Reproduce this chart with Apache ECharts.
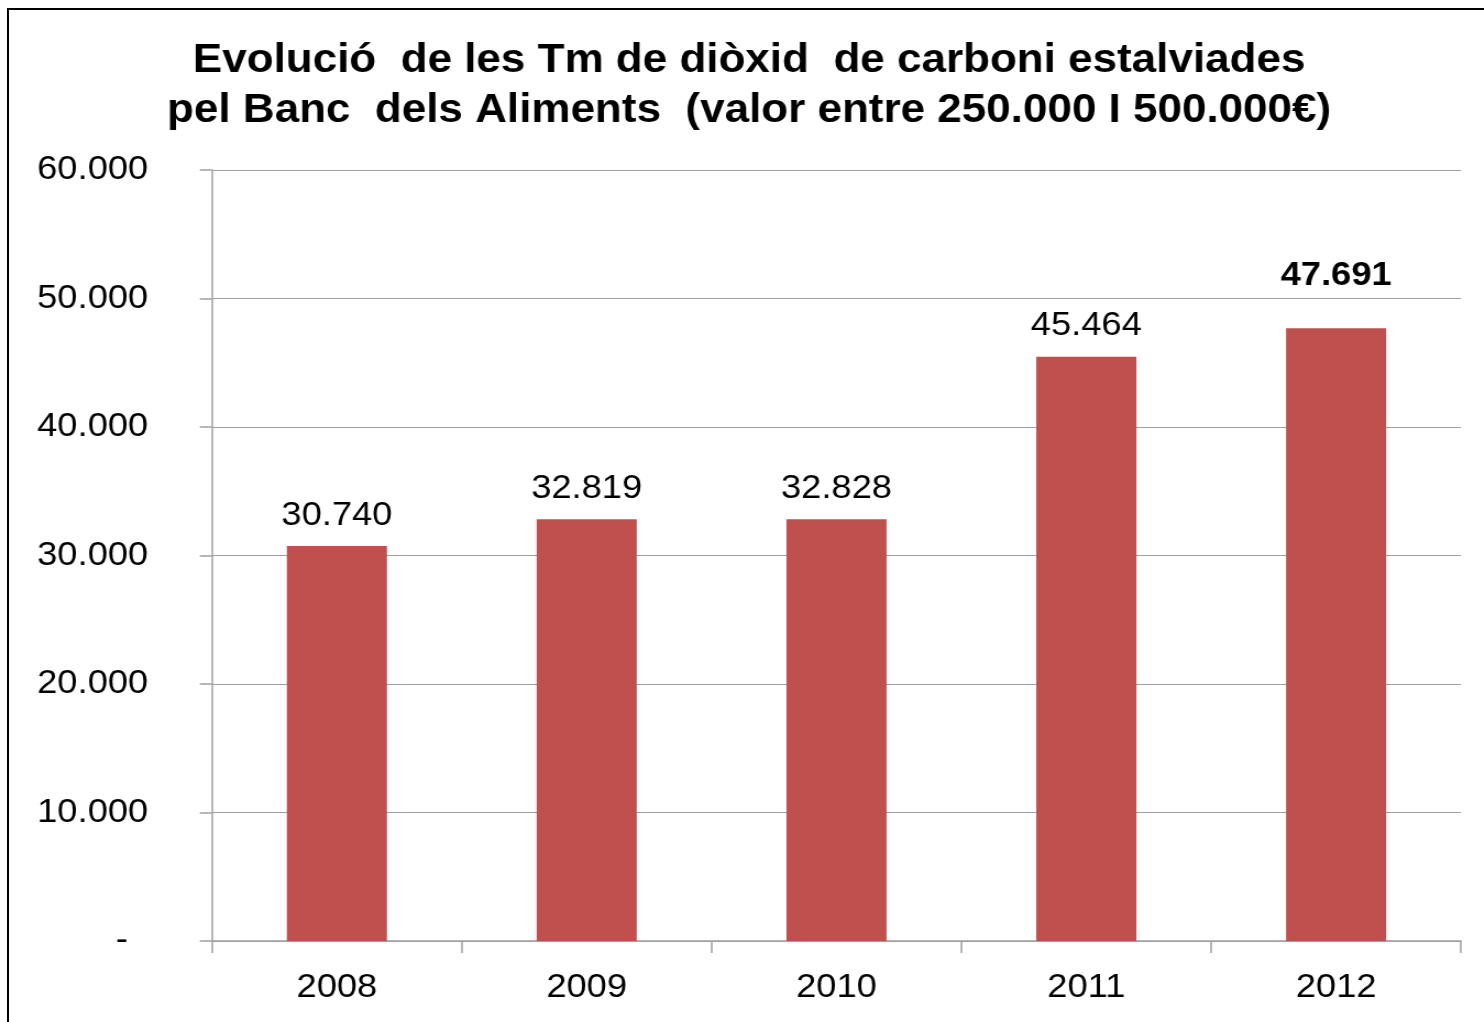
<!DOCTYPE html>
<html>
<head>
<meta charset="utf-8">
<script src="https://cdn.jsdelivr.net/npm/echarts@6/dist/echarts.min.js"></script>
<style>
    html, body { margin: 0; padding: 0; background: #fff; overflow: hidden; width: 1484px; height: 1022px; }
    #frame { position: absolute; left: 7px; top: 8px; width: 1520px; height: 1100px; border: 2px solid #000; }
    /* the source picture is stretched a little horizontally */
    #main { position: absolute; left: 0; top: 0; width: 1362px; height: 1022px; transform: scaleX(1.1); transform-origin: 0 0; }
</style>
</head>
<body>
<div id="frame"></div>
<div id="main"></div>
<script>
var years = ['2008', '2009', '2010', '2011', '2012'];
var tonnes = [30740, 32819, 32828, 45464, 47691];
var boldLast = true;

function fmt(v) {
    if (v === 0) return '-  ';
    return String(v).replace(/\B(?=(\d{3})+(?!\d))/g, '.');
}

var font = "'Liberation Sans', Arial, sans-serif";

var barData = tonnes.map(function (v, i) {
    var item = { value: v };
    if (boldLast && i === tonnes.length - 1) {
        item.label = { fontWeight: 'bold', distance: 36 };
    }
    return item;
});

var myChart = echarts.init(document.getElementById('main'), null, { renderer: 'canvas' });
var option = {
    animation: false,
    title: {
        text: 'Evolució  de les Tm de diòxid  de carboni estalviades\npel Banc  dels Aliments  (valor entre 250.000 I 500.000€)',
        left: 'center',
        top: 36,
        padding: 0,
        textStyle: {
            fontFamily: font,
            fontSize: 40,
            fontWeight: 'bold',
            lineHeight: 50,
            color: '#000'
        }
    },
    grid: {
        left: 192.7,
        top: 170,
        width: 1135.5,
        height: 771,
        containLabel: false
    },
    xAxis: {
        type: 'category',
        data: years,
        axisLine: { lineStyle: { color: '#a0a0a0', width: 1.5 } },
        axisTick: { show: true, length: 12, lineStyle: { color: '#a0a0a0', width: 1.5 } },
        axisLabel: { margin: 30, fontFamily: font, fontSize: 33, color: '#000' }
    },
    yAxis: {
        type: 'value',
        min: 0,
        max: 60000,
        interval: 10000,
        axisLine: { show: true, lineStyle: { color: '#a0a0a0', width: 1.5 } },
        axisTick: { show: true, length: 11, lineStyle: { color: '#a0a0a0', width: 1.5 } },
        splitLine: { lineStyle: { color: '#a0a0a0', width: 1.2 } },
        axisLabel: {
            margin: 58,
            fontFamily: font,
            fontSize: 33,
            color: '#000',
            formatter: fmt
        }
    },
    series: [{
        type: 'bar',
        data: barData,
        barWidth: 91,
        itemStyle: { color: '#C0504D' },
        label: {
            show: true,
            position: 'top',
            distance: 14,
            fontFamily: font,
            fontSize: 33,
            color: '#000',
            formatter: function (p) { return fmt(p.value); }
        }
    }]
};
myChart.setOption(option);
</script>
</body>
</html>
